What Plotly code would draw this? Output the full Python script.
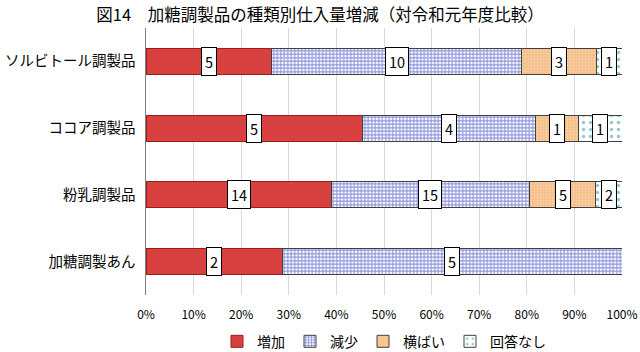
import numpy as np
import plotly.graph_objects as go

categories = ["ソルビトール調製品", "ココア調製品", "粉乳調製品", "加糖調製あん"]
series_names = ["増加", "減少", "横ばい", "回答なし"]
inc = [5, 5, 14, 2]
dec = [10, 4, 15, 5]
flat = [3, 1, 5, 0]
noans = [1, 1, 2, 0]
x_ticks = [0, 10, 20, 30, 40, 50, 60, 70, 80, 90, 100]
tick_text = [f"{v}%" for v in x_ticks]

counts = np.array([inc, dec, flat, noans], dtype=float)
totals = counts.sum(axis=0)
pct = counts / totals * 100

styles = [
    dict(color="#d8413f", line=dict(color="#a01c1c", width=1), pattern=None),
    dict(color="#ffffff", line=dict(color="#404040", width=1),
         pattern=dict(shape="+", fgcolor="#2030b8", bgcolor="#ffffff", size=3.5, solidity=0.55)),
    dict(color="#f8c896", line=dict(color="#404040", width=1),
         pattern=dict(shape=".", fgcolor="#fde9d6", bgcolor="#f5bd85", size=3, solidity=0.35)),
    dict(color="#ffffff", line=dict(color="#404040", width=1),
         pattern=dict(shape=".", fgcolor="#2a9a9a", bgcolor="#ffffff", size=7, solidity=0.2)),
]

fig = go.Figure()
for i, name in enumerate(series_names):
    st = styles[i]
    marker = dict(color=st["color"], line=st["line"])
    if st["pattern"]:
        marker["pattern"] = st["pattern"]
    fig.add_trace(go.Bar(
        y=categories, x=pct[i], name=name, orientation="h",
        marker=marker, width=0.39, hoverinfo="skip",
    ))

cum = np.cumsum(pct, axis=0)
for i in range(len(series_names)):
    for j, cat in enumerate(categories):
        if counts[i, j] > 0:
            center = cum[i, j] - pct[i, j] / 2
            fig.add_annotation(
                x=center, y=cat, text=str(int(counts[i, j])), showarrow=False,
                bgcolor="#ffffff", bordercolor="#000000", borderwidth=1, borderpad=3,
                font=dict(size=14.5, color="#000000"),
            )

fig.update_layout(
    barmode="stack",
    width=640, height=352,
    margin=dict(l=146, r=18, t=28, b=57, autoexpand=False),
    paper_bgcolor="#ffffff", plot_bgcolor="#ffffff",
    font=dict(family="Noto Sans CJK JP", size=12, color="#000000"),
    title=dict(text="図14　加糖調製品の種類別仕入量増減（対令和元年度比較）",
               x=0.5, xanchor="center", y=0.957, yanchor="middle",
               font=dict(size=16.5, color="#000000")),
    legend=dict(orientation="h", x=0.5, xanchor="center", y=-0.175, yanchor="middle",
                font=dict(size=14), traceorder="normal", itemwidth=30,
                tracegroupgap=0),
)
fig.update_xaxes(range=[0, 100], tickvals=x_ticks, ticktext=tick_text,
                 showgrid=True, gridcolor="#d9d9d9", gridwidth=1, zeroline=False,
                 tickfont=dict(size=12), ticks="", showline=False, ticklabelstandoff=11)
fig.update_yaxes(categoryorder="array", categoryarray=categories, autorange="reversed",
                 showline=True, linecolor="#808080", linewidth=1, ticks="",
                 tickfont=dict(size=14.5), ticksuffix="  ")

fig.write_html("out.html")
